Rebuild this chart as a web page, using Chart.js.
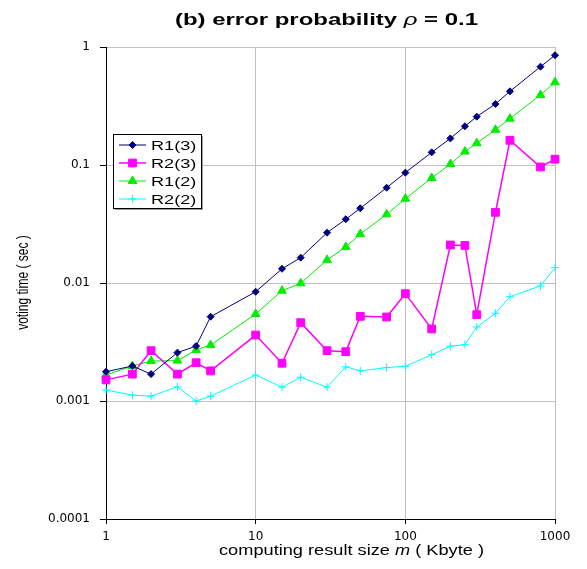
<!DOCTYPE html>
<html>
<head>
<meta charset="utf-8">
<script src="https://cdn.jsdelivr.net/npm/chart.js@4/dist/chart.umd.min.js"></script>
<style>
  html, body { margin: 0; padding: 0; background: #fff; }
</style>
</head>
<body>
<canvas id="chart" width="587" height="569"></canvas>
<script>
// computing result size m (Kbyte)
const sizes = [1, 1.5, 2, 3, 4, 5, 10, 15, 20, 30, 40, 50, 75, 100, 150, 200, 250, 300, 400, 500, 800, 1000];

// voting time (sec)
const r1_3 = [0.00177, 0.00198, 0.00169, 0.00257, 0.00292, 0.00518, 0.00843, 0.0132, 0.0164, 0.0267, 0.0347,
  0.0430, 0.0642, 0.0861, 0.128, 0.168, 0.213, 0.257, 0.329, 0.421, 0.681, 0.851];
const r2_3 = [0.00151, 0.00169, 0.00267, 0.00169, 0.00211, 0.00180, 0.00362, 0.00209, 0.00461, 0.00267, 0.00262,
  0.00522, 0.00515, 0.00812, 0.00408, 0.0210, 0.0208, 0.00539, 0.0397, 0.162, 0.0962, 0.112];
const r1_2 = [0.00166, 0.00198, 0.00218, 0.00220, 0.00271, 0.00298, 0.00546, 0.00861, 0.00994, 0.0157, 0.0202,
  0.0260, 0.0382, 0.0518, 0.0776, 0.102, 0.130, 0.153, 0.199, 0.247, 0.392, 0.502];
const r2_2 = [0.00124, 0.00112, 0.00110, 0.00132, 0.00100, 0.00110, 0.00166, 0.00131, 0.00159, 0.00131, 0.00195,
  0.00180, 0.00192, 0.00197, 0.00247, 0.00291, 0.00300, 0.00424, 0.00554, 0.00766, 0.00944, 0.0135];

const seriesNames = ['R1(3)', 'R2(3)', 'R1(2)', 'R2(2)'];
const xTicks = [1, 10, 100, 1000];
const yTicks = [0.0001, 0.001, 0.01, 0.1, 1];

const toPoints = ys => sizes.map((x, i) => ({x: x, y: ys[i]}));

// draw text squeezed/stretched horizontally to a given width
function drawRuns(ctx, runs, left, baseline, width) {
  let total = 0;
  runs.forEach(r => { ctx.font = r.font; total += ctx.measureText(r.text).width; });
  let sx = width / total;
  ctx.save();
  ctx.translate(left, baseline);
  ctx.scale(sx, 1);
  ctx.textAlign = 'left';
  ctx.textBaseline = 'alphabetic';
  let x = 0;
  runs.forEach(r => {
    ctx.font = r.font;
    ctx.fillText(r.text, x, 0);
    x += ctx.measureText(r.text).width;
  });
  ctx.restore();
}

const textPlugin = {
  id: 'textPlugin',
  afterDraw(chart) {
    const ctx = chart.ctx;
    ctx.save();
    ctx.fillStyle = '#000';

    // title
    drawRuns(ctx, [
      {text: '(b) error probability ', font: 'bold 17px "Liberation Sans"'},
      {text: 'ρ', font: 'italic 17px "Liberation Sans"'},
      {text: ' = 0.1', font: 'bold 17px "Liberation Sans"'}
    ], 175, 25, 303);

    // x axis title
    drawRuns(ctx, [
      {text: 'computing result size ', font: '14px "Liberation Sans"'},
      {text: 'm', font: 'italic 14px "Liberation Sans"'},
      {text: ' ( Kbyte )', font: '14px "Liberation Sans"'}
    ], 219, 555, 265);

    // y axis title
    ctx.save();
    ctx.translate(28, 282.5);
    ctx.scale(1.35, 1);
    ctx.rotate(-Math.PI / 2);
    ctx.font = '12px "Liberation Sans"';
    ctx.textAlign = 'center';
    ctx.textBaseline = 'alphabetic';
    ctx.fillText('voting time ( sec )', 0, 0);
    ctx.restore();

    // legend
    const bx = 113, by = 134, bw = 88, bh = 74;
    ctx.fillStyle = '#9a9a9a';
    ctx.fillRect(bx + 2, by + 2, bw, bh);
    ctx.fillStyle = '#fff';
    ctx.fillRect(bx, by, bw, bh);
    ctx.strokeStyle = '#000';
    ctx.lineWidth = 1;
    ctx.strokeRect(bx + 0.5, by + 0.5, bw, bh);

    chart.data.datasets.forEach((ds, i) => {
      const y = 145 + i * 18;
      ctx.strokeStyle = ds.borderColor;
      ctx.lineWidth = ds.borderWidth;
      ctx.beginPath();
      ctx.moveTo(119, y);
      ctx.lineTo(146, y);
      ctx.stroke();
      ctx.fillStyle = ds.pointBackgroundColor;
      ctx.strokeStyle = ds.pointBorderColor;
      ctx.lineWidth = 1;
      Chart.helpers.drawPoint(ctx, {
        pointStyle: ds.pointStyle, radius: ds.pointRadius, rotation: 0, borderWidth: 1
      }, 132.5, y);
      ctx.fillStyle = '#000';
      ctx.save();
      ctx.translate(151, y + 4.5);
      ctx.scale(1.45, 1);
      ctx.font = '12.5px "Liberation Sans"';
      ctx.textAlign = 'left';
      ctx.fillText(ds.label, 0, 0);
      ctx.restore();
    });
    ctx.restore();
  }
};

function makeSet(label, data, color, style, radius, width) {
  return {
    label: label,
    data: toPoints(data),
    borderColor: color,
    backgroundColor: color,
    pointBackgroundColor: color,
    pointBorderColor: color,
    borderWidth: width,
    pointStyle: style,
    pointRadius: radius,
    pointBorderWidth: 1,
    tension: 0,
    clip: false
  };
}

new Chart(document.getElementById('chart'), {
  type: 'line',
  data: {
    datasets: [
      makeSet(seriesNames[0], r1_3, '#000080', 'rectRot', 3.5, 1),
      makeSet(seriesNames[1], r2_3, '#ff00ff', 'rect', 5.5, 1.5),
      makeSet(seriesNames[2], r1_2, '#00ee00', 'triangle', 5, 1),
      makeSet(seriesNames[3], r2_2, '#00ffff', 'cross', 4, 1)
    ]
  },
  options: {
    responsive: false,
    animation: false,
    devicePixelRatio: 1,
    layout: {padding: {top: 47, right: 32, left: 0, bottom: 0}},
    plugins: {
      legend: {display: false},
      title: {display: false},
      tooltip: {enabled: false}
    },
    scales: {
      x: {
        type: 'logarithmic',
        min: 1,
        max: 1000,
        afterBuildTicks: scale => { scale.ticks = xTicks.map(v => ({value: v})); },
        afterFit: scale => { scale.height = 50; },
        ticks: {
          callback: v => String(v),
          font: {family: 'DejaVu Sans', size: 12},
          color: '#000',
          padding: 6,
          maxRotation: 0
        },
        grid: {color: '#c0c0c0', tickColor: '#000', tickLength: 5},
        border: {color: '#000', width: 1}
      },
      y: {
        type: 'logarithmic',
        min: 0.0001,
        max: 1,
        afterBuildTicks: scale => { scale.ticks = yTicks.map(v => ({value: v})); },
        afterFit: scale => { scale.width = 106; },
        ticks: {
          callback: v => String(v),
          font: {family: 'DejaVu Sans', size: 12},
          color: '#000',
          padding: 10
        },
        grid: {color: '#c0c0c0', tickColor: '#000', tickLength: 6},
        border: {color: '#000', width: 1}
      }
    }
  },
  plugins: [textPlugin]
});
</script>
</body>
</html>
